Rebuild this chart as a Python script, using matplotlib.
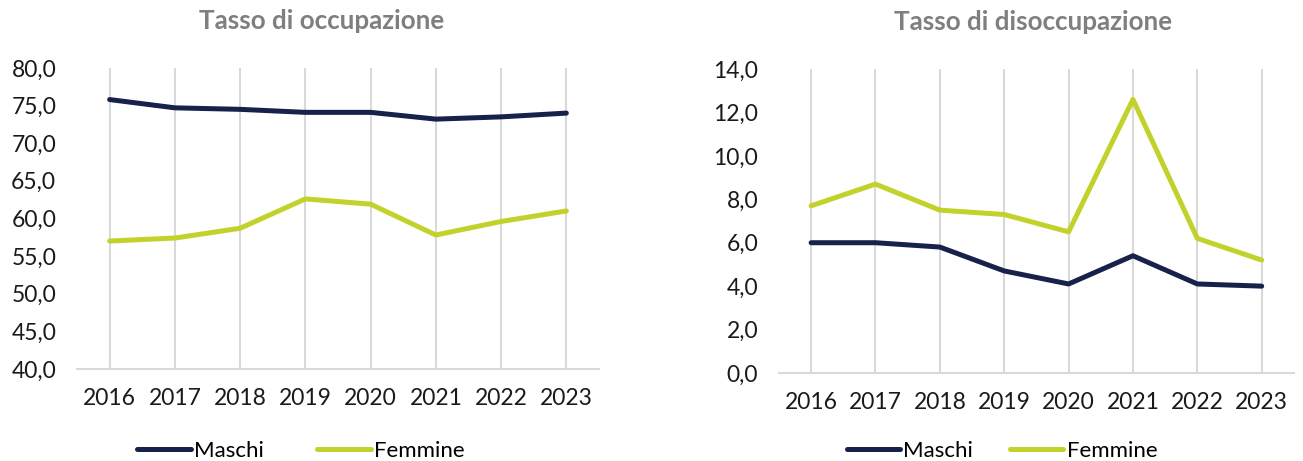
import matplotlib
matplotlib.use("Agg")
import matplotlib.pyplot as plt
import matplotlib.ticker as ticker

years = ['2016', '2017', '2018', '2019', '2020', '2021', '2022', '2023']
occ_maschi = [75.8, 74.7, 74.5, 74.1, 74.1, 73.2, 73.5, 74.0]
occ_femmine = [57.0, 57.4, 58.7, 62.6, 61.9, 57.8, 59.6, 61.0]
dis_maschi = [6.0, 6.0, 5.8, 4.7, 4.1, 5.4, 4.1, 4.0]
dis_femmine = [7.7, 8.7, 7.5, 7.3, 6.5, 12.6, 6.2, 5.2]

NAVY = '#17214a'
LIME = '#c3d22b'
GRID = '#d9d9d9'
TITLE = '#7f7f7f'

plt.rcParams['font.family'] = ['Lato', 'DejaVu Sans']


def comma(x, pos):
    return f'{x:.1f}'.replace('.', ',')


def draw(ax, maschi, femmine, title, ylim, step, leg_x, title_x, colspace):
    x = range(len(years))
    for i in x:
        ax.axvline(i, color=GRID, lw=1.5, zorder=0)
    ax.plot(x, maschi, color=NAVY, lw=3.6, label='Maschi', solid_capstyle='round')
    ax.plot(x, femmine, color=LIME, lw=3.6, label='Femmine', solid_capstyle='round')
    ax.set_xlim(-0.5, len(years) - 0.5)
    ax.set_ylim(*ylim)
    ax.set_yticks([ylim[0] + step * k for k in range(int((ylim[1] - ylim[0]) / step) + 1)])
    ax.yaxis.set_major_formatter(ticker.FuncFormatter(comma))
    ax.set_xticks(list(x))
    ax.set_xticklabels(years)
    for s in ['top', 'right', 'left']:
        ax.spines[s].set_visible(False)
    ax.spines['bottom'].set_color(GRID)
    ax.spines['bottom'].set_linewidth(1.5)
    ax.tick_params(axis='both', length=0, labelsize=16.5, colors='#1a1a1a')
    ax.tick_params(axis='y', pad=15)
    ax.tick_params(axis='x', pad=14)
    ax.set_title(title, fontsize=18.7, fontweight='bold', color=TITLE, pad=28, x=title_x)
    ax.legend(loc='center', bbox_to_anchor=(leg_x, 0.022), bbox_transform=ax.figure.transFigure,
              ncol=2, frameon=False, fontsize=16, handlelength=2.4, handletextpad=0.15,
              columnspacing=colspace, borderaxespad=0)


fig = plt.figure(figsize=(13.03, 4.61), dpi=100)
ax1 = fig.add_axes([0.0591, 0.1996, 0.4006, 0.653])
ax2 = fig.add_axes([0.5978, 0.1909, 0.3952, 0.6594])

draw(ax1, occ_maschi, occ_femmine, 'Tasso di occupazione', (40, 80), 5,
     301 / 1303, 0.469, 2.4)
draw(ax2, dis_maschi, dis_femmine, 'Tasso di disoccupazione', (0, 14), 2,
     1002 / 1303, 0.493, 1.65)

fig.savefig('out.png', dpi=100)
